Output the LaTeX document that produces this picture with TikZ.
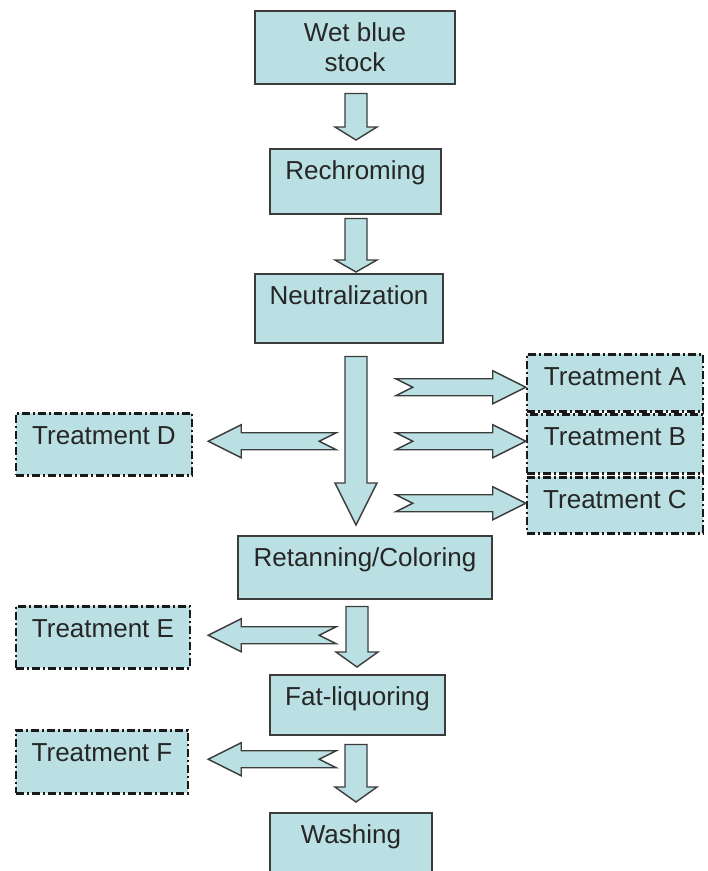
\documentclass[tikz,border=0pt]{standalone}
\usepackage{fontspec}
\setmainfont{Liberation Sans}
\usetikzlibrary{calc}
\definecolor{boxFill}{RGB}{186,224,227}
\definecolor{boxLine}{RGB}{60,60,60}
% Block arrow pointing down: tail coordinate, tip coordinate, head length
\newcommand{\blockDown}[3]{%
    \draw[block arrow] let \p1=(#1), \p2=(#2) in
        (\x2-11pt,\y1) -- (\x2+11pt,\y1) -- (\x2+11pt,\y2+#3) -- (\x2+21pt,\y2+#3)
        -- (\x2,\y2) -- (\x2-21pt,\y2+#3) -- (\x2-11pt,\y2+#3) -- cycle;
}
% Notched block arrow, left or right: tail coordinate, tip coordinate
\newcommand{\blockSide}[2]{%
    \draw[block arrow] let \p1=(#1), \p2=(#2), \n1={sign(\x2-\x1)} in
        (\x1,\y1+8.5pt) -- (\x2-\n1*33pt,\y1+8.5pt) -- (\x2-\n1*33pt,\y1+16.5pt) -- (\x2,\y1)
        -- (\x2-\n1*33pt,\y1-16.5pt) -- (\x2-\n1*33pt,\y1-8.5pt) -- (\x1,\y1-8.5pt)
        -- (\x1+\n1*17pt,\y1) -- cycle;
}
\tikzset{
    stage/.style={draw=boxLine, fill=boxFill, line width=1.5pt, anchor=north,
        inner sep=0pt, text height=31pt, text=black!85, font=\fontsize{26}{30}\selectfont},
    option/.style={stage, draw=black!90, line width=2.5pt,
        dash pattern=on 8pt off 3pt on 2pt off 3pt},
    block arrow/.style={draw=boxLine, fill=boxFill, line width=1.4pt, line join=miter}
}

\begin{document}
\begin{tikzpicture}[x=1pt, y=-1pt]
    \useasboundingbox (0,0) rectangle (708,871);

    % Main line
    \node[stage, text height=, minimum width=200pt, minimum height=73pt, align=center]
        (wet) at (355,10) {Wet blue\\stock};
    \node[stage, minimum width=171pt, text depth=34pt] (rech) at (355.5,148) {Rechroming};
    \node[stage, minimum width=188pt, text depth=38pt] (neut) at (349,273) {Neutralization};
    \node[stage, minimum width=254pt, text depth=32pt] (ret) at (365,535) {Retanning/Coloring};
    \node[stage, minimum width=175pt, text depth=29pt] (fat) at (357.5,674) {Fat-liquoring};
    \node[stage, minimum width=162pt, text depth=47pt] (wash) at (351,812) {Washing};

    % Treatments
    \node[option, minimum width=176pt, text depth=26pt] (trtA) at (615,353) {Treatment A};
    \node[option, minimum width=176pt, text depth=28pt] (trtB) at (615,413) {Treatment B};
    \node[option, minimum width=176pt, text depth=25pt] (trtC) at (615,476) {Treatment C};
    \node[option, minimum width=176pt, text depth=31pt] (trtD) at (104,412) {Treatment D};
    \node[option, minimum width=174pt, text depth=31pt] (trtE) at (103,605) {Treatment E};
    \node[option, minimum width=172pt, text depth=32pt] (trtF) at (102,729) {Treatment F};

    % Down arrows
    \blockDown{$(wet.south)+(1,9)$}{$(rech.north)+(0.5,-8)$}{13pt}
    \blockDown{$(rech.south)+(0,4)$}{$(rech.south |- neut.north)+(0.5,-1)$}{12pt}
    \blockDown{$(neut.south)+(7,13)$}{$(ret.north)+(-9,-10)$}{42pt}
    \blockDown{$(ret.south)+(-8,7)$}{$(fat.north)+(-0.5,-7)$}{15pt}
    \blockDown{$(fat.south)+(0,9)$}{$(wash.north)+(5,-10)$}{15pt}

    % Side arrows
    \blockSide{$(trtA.west)+(-130,4.5)$}{trtA.west}
    \blockSide{$(trtB.west)+(-130,-2.5)$}{trtB.west}
    \blockSide{$(trtC.west)+(-130,-2)$}{trtC.west}
    \blockSide{$(trtD.east)+(143,-3)$}{$(trtD.east)+(15,0)$}
    \blockSide{$(trtE.east)+(145,-2)$}{$(trtE.east)+(17,0)$}
    \blockSide{$(trtF.east)+(147,-2.5)$}{$(trtF.east)+(19,0)$}
\end{tikzpicture}
\end{document}
